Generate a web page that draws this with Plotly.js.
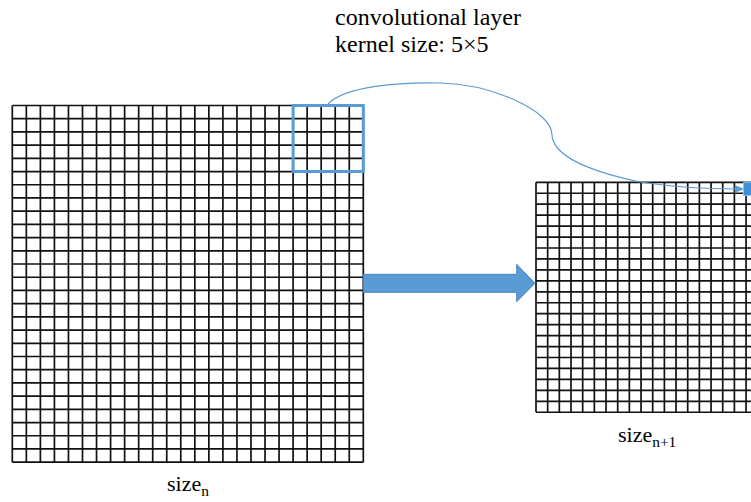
<!DOCTYPE html>
<html>
<head>
<meta charset="utf-8">
<script src="https://cdn.plot.ly/plotly-3.0.1.min.js"></script>
<style>html,body{margin:0;padding:0;background:#fff;}#chart{width:751px;height:502px;}</style>
</head>
<body>
<div id="chart"></div>
<script>
// ---- data ----
const gridNames = ['input', 'output'];
const gridCols = [25, 21];
const gridRows = [27, 21];
const kernelSize = [5, 5];
const gridLabels = ['size<sub>n</sub>', 'size<sub>n+1</sub>'];
const titleLines = ['convolutional layer', 'kernel size: 5\u00d75'];

// ---- geometry (pixel space) ----
const geo = {
  input:  {x0: 12.3, y0: 105.5, cw: 14.04, ch: 13.21},
  output: {x0: 536.0, y0: 182.3, cw: 11.67, ch: 10.95}
};
const blue = '#5B9BD5';
const serif = "'Liberation Serif', 'Times New Roman', Times, serif";

function gridTrace(name, cols, rows) {
  const g = geo[name];
  const xs = [], ys = [];
  const x1 = g.x0 + cols * g.cw, y1 = g.y0 + rows * g.ch;
  for (let c = 0; c <= cols; c++) {
    const x = g.x0 + c * g.cw;
    xs.push(x, x, null); ys.push(g.y0, y1, null);
  }
  for (let r = 0; r <= rows; r++) {
    const y = g.y0 + r * g.ch;
    xs.push(g.x0, x1, null); ys.push(y, y, null);
  }
  return {type: 'scatter', mode: 'lines', x: xs, y: ys, hoverinfo: 'skip',
          line: {color: '#111', width: 1.7}, showlegend: false};
}

const traces = gridNames.map((n, i) => gridTrace(n, gridCols[i], gridRows[i]));

// kernel window: top-right corner of the input grid
const gi = geo.input;
const kx0 = gi.x0 + (gridCols[0] - kernelSize[0]) * gi.cw;
const kx1 = gi.x0 + gridCols[0] * gi.cw;
const ky0 = gi.y0, ky1 = gi.y0 + kernelSize[1] * gi.ch;

const shapes = [
  {type: 'rect', xref: 'x', yref: 'y', x0: kx0, x1: kx1, y0: ky0, y1: ky1,
   line: {color: blue, width: 3}, fillcolor: 'rgba(0,0,0,0)'},
  // connector curve
  {type: 'path', xref: 'x', yref: 'y',
   path: 'M 328,104 C 345,86 400,82 440,83 C 490,84 552,110 552,135 C 553,152 575,168 640,182 C 680,188 715,189 738,189',
   line: {color: blue, width: 1.2}},
  // arrow head of curve
  {type: 'path', xref: 'x', yref: 'y', path: 'M 735,185.5 L 744,189 L 735,192.5 Z',
   fillcolor: blue, line: {color: blue, width: 0.5}},
  // target cell in output
  {type: 'rect', xref: 'x', yref: 'y', x0: 743.5, x1: 756, y0: 182.3, y1: 195.5,
   fillcolor: '#3F8FD9', line: {color: '#8CC4F0', width: 1}},
  // big block arrow
  {type: 'path', xref: 'x', yref: 'y',
   path: 'M 363.3,274.3 L 516.7,274.3 L 516.7,264.3 L 535,283.3 L 516.7,301.7 L 516.7,292.3 L 363.3,292.3 Z',
   fillcolor: blue, line: {color: '#4C84BC', width: 1}}
];

const annotations = [
  {x: 333, y: 17, text: titleLines[0], xanchor: 'left', yanchor: 'middle'},
  {x: 333, y: 44, text: titleLines[1], xanchor: 'left', yanchor: 'middle'},
  {x: gi.x0 + gridCols[0] * gi.cw / 2, y: 485, text: gridLabels[0], xanchor: 'center', yanchor: 'middle', size: 22},
  {x: 647, y: 436, text: gridLabels[1], xanchor: 'center', yanchor: 'middle', size: 22}
].map(a => ({xref: 'x', yref: 'y', x: a.x, y: a.y, text: a.text, showarrow: false,
            xanchor: a.xanchor, yanchor: a.yanchor,
            font: {family: serif, size: a.size || 24, color: '#000'}}));

const layout = {
  width: 751, height: 502,
  margin: {l: 0, r: 0, t: 0, b: 0, pad: 0},
  paper_bgcolor: '#fff', plot_bgcolor: '#fff',
  xaxis: {range: [0, 751], visible: false, fixedrange: true},
  yaxis: {range: [502, 0], visible: false, fixedrange: true},
  font: {family: serif},
  shapes: shapes, annotations: annotations, showlegend: false
};

Plotly.newPlot('chart', traces, layout, {displayModeBar: false});
</script>
</body>
</html>
